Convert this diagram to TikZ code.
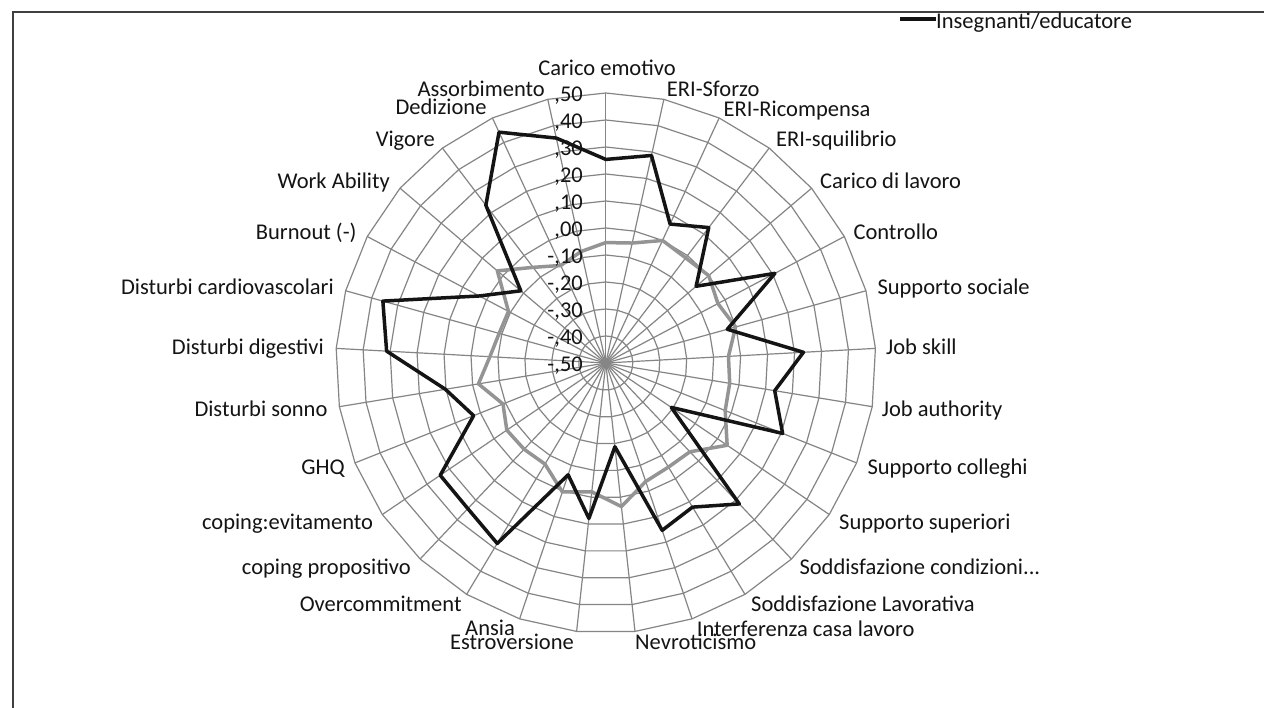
\documentclass[tikz,border=0pt]{standalone}
\usepackage{fontspec}
\setmainfont{Carlito}
\begin{document}
\begin{tikzpicture}[x=1pt,y=-1pt,
  gridline/.style={draw=black!48, line width=1.2pt},
  frameline/.style={draw=black!75, line width=1.6pt},
  blackseries/.style={draw=black!92, line width=3.5pt, line join=round},
  grayseries/.style={draw=black!42, line width=3.5pt, line join=round},
  lab/.style={font=\fontsize{22.5}{27}\selectfont, text=black!92, inner sep=0pt, text height=0.64em, text depth=0pt, yshift=-5pt},
  ticklab/.style={lab, anchor=east}]
\useasboundingbox (0,0) rectangle (1264,708);
\fill[white] (0,0) rectangle (1264,708);
% frame (cropped border)
\coordinate (fr1) at (1264,12);
\coordinate (fr2) at (13,12);
\coordinate (fr3) at (13,708);
\draw[frameline] (fr1) -- (fr2) -- (fr3);

\def\cx{605.8}
\def\cy{363}
\def\R{270}
\coordinate (ctr) at (\cx,\cy);

% rings
\foreach \i in {1,...,10} {
  \draw[gridline] plot[samples=30, domain=0:360, variable=\t]
    ({\cx+27*\i*sin(\t)},{\cy-27*\i*cos(\t)}) -- cycle;
}
% spokes
\foreach \k in {0,...,28} {
  \pgfmathsetmacro\t{\k*360/29}
  \coordinate (s\k) at ({\cx+\R*sin(\t)},{\cy-\R*cos(\t)});
  \draw[gridline] (ctr) -- (s\k);
}

% series coordinates
\foreach \v [count=\k from 0] in {-0.054,-0.045,0.0,-0.011,0.0,-0.03,-0.001,-0.045,-0.035,-0.024,0.043,-0.047,-0.05,-0.037,0.035,-0.02,0.004,-0.063,-0.06,-0.057,-0.09,-0.022,-0.07,-0.09,-0.092,0.027,-0.055,-0.102,-0.077} {
  \pgfmathsetmacro\t{\k*360/29}
  \pgfmathsetmacro\rr{(\v+0.5)*\R}
  \coordinate (g\k) at ({\cx+\rr*sin(\t)},{\cy-\rr*cos(\t)});
}
\foreach \v [count=\k from 0] in {0.254,0.287,0.067,0.13,-0.061,0.209,-0.033,0.233,0.134,0.205,-0.207,0.219,0.123,0.154,-0.188,0.079,-0.063,0.28,0.243,0.241,0.027,0.102,0.313,0.357,0.03,-0.087,0.234,0.442,0.353} {
  \pgfmathsetmacro\t{\k*360/29}
  \pgfmathsetmacro\rr{(\v+0.5)*\R}
  \coordinate (b\k) at ({\cx+\rr*sin(\t)},{\cy-\rr*cos(\t)});
}
\draw[grayseries] (g0) \foreach \k in {1,...,28}{ -- (g\k)} -- cycle;
\draw[blackseries] (b0) \foreach \k in {1,...,28}{ -- (b\k)} -- cycle;

% tick labels
\foreach \lbl [count=\i from 0] in {{-,50},{-,40},{-,30},{-,20},{-,10},{,00},{,10},{,20},{,30},{,40},{,50}} {
  \node[ticklab] (tk\i) at (583,{\cy-27*\i}) {\lbl};
}

% axis labels
\node[lab, anchor=center] (a0) at (607,67) {Carico emotivo};
\node[lab, anchor=west] (a1) at (666.7,88) {ERI-Sforzo};
\node[lab, anchor=west] (a2) at (723.5,108) {ERI-Ricompensa};
\node[lab, anchor=west] (a3) at (776,138.3) {ERI-squilibrio};
\node[lab, anchor=west] (a4) at (820,180) {Carico di lavoro};
\node[lab, anchor=west] (a5) at (853.3,231) {Controllo};
\node[lab, anchor=west] (a6) at (877.3,286.7) {Supporto sociale};
\node[lab, anchor=west] (a7) at (886,346.7) {Job skill};
\node[lab, anchor=west] (a8) at (881.7,408.3) {Job authority};
\node[lab, anchor=west] (a9) at (867.3,466) {Supporto colleghi};
\node[lab, anchor=west] (a10) at (839,521) {Supporto superiori};
\node[lab, anchor=west] (a11) at (799.3,566.7) {Soddisfazione condizioni...};
\node[lab, anchor=west] (a12) at (751,603.3) {Soddisfazione Lavorativa};
\node[lab, anchor=west] (a13) at (696.7,628.3) {Interferenza casa lavoro};
\node[lab, anchor=west] (a14) at (635,641) {Nevroticismo};
\node[lab, anchor=east] (a15) at (574,641) {Estroversione};
\node[lab, anchor=east] (a16) at (515,627.7) {Ansia};
\node[lab, anchor=east] (a17) at (461.7,603.3) {Overcommitment};
\node[lab, anchor=east] (a18) at (411,566.7) {coping propositivo};
\node[lab, anchor=east] (a19) at (373.3,521) {coping:evitamento};
\node[lab, anchor=east] (a20) at (345,466) {GHQ};
\node[lab, anchor=east] (a21) at (327.7,408.3) {Disturbi sonno};
\node[lab, anchor=east] (a22) at (324,346.7) {Disturbi digestivi};
\node[lab, anchor=east] (a23) at (334,286.7) {Disturbi cardiovascolari};
\node[lab, anchor=east] (a24) at (356.7,231) {Burnout (-)};
\node[lab, anchor=east] (a25) at (390,180) {Work Ability};
\node[lab, anchor=east] (a26) at (435,138.3) {Vigore};
\node[lab, anchor=east] (a27) at (486.7,106.7) {Dedizione};
\node[lab, anchor=east] (a28) at (545,88.3) {Assorbimento};

% legend
\coordinate (lg1) at (900,19);
\coordinate (lg2) at (936,19);
\draw[blackseries] (lg1) -- (lg2);
\node[lab, anchor=west] (legtext) at (936,20) {Insegnanti/educatore};
\end{tikzpicture}
\end{document}
